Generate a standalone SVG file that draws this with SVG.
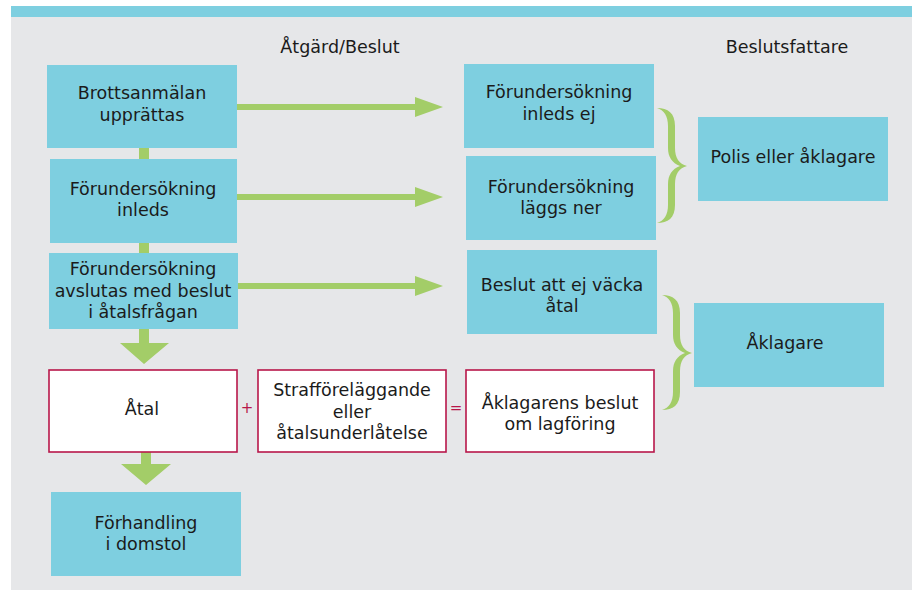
<svg xmlns="http://www.w3.org/2000/svg" width="912" height="590" viewBox="0 0 912 590">
<style>
.t{font-family:"DejaVu Sans","Liberation Sans",sans-serif;font-size:17.5px;fill:#1b1b1b;text-anchor:middle}
.c{fill:#7ecfe0}
.w{fill:#ffffff;stroke:#b8174a;stroke-width:1.6}
.g{fill:#a3cd68}
.op{font-family:"DejaVu Sans","Liberation Sans",sans-serif;font-size:15px;fill:#b8174a;text-anchor:middle}
</style>
<defs>
<path id="brace" class="g" d="M657,108 C668,108 675,113 675,126 L675,148 C675,158 679,164 687,166 C679,168 675,174 675,184 L675,205 C675,218 668,223 657,223 C664,221 668,215 668,205 L668,184 C668,175 672,169 680,166 C672,163 668,157 668,148 L668,126 C668,116 664,110 657,108 Z"/>
</defs>
<rect x="0" y="0" width="912" height="590" fill="#ffffff"/>
<rect x="11" y="17" width="901" height="573" fill="#e6e7e9"/>
<rect x="11" y="6" width="901" height="11" fill="#7ecfe0"/>
<text class="t" x="340" y="53">Åtgärd/Beslut</text>
<text class="t" x="787" y="53">Beslutsfattare</text>

<g id="connectors">
<rect class="g" x="139" y="147" width="10" height="13"/>
<rect class="g" x="139" y="242" width="10" height="12"/>
<path class="g" d="M139,328 H149 V343 H169 L144,364 L120,343 H139 Z"/>
<path class="g" d="M141,451 H151 V464 H171 L146,485 L121,464 H141 Z"/>
<path class="g" d="M237,104 H415 V97 L443,107 L415,117 V110 H237 Z"/>
<path class="g" d="M237,194 H415 V187 L443,197 L415,207 V200 H237 Z"/>
<path class="g" d="M238,283 H415 V276 L443,286 L415,296 V289 H238 Z"/>
<use href="#brace"/>
<use href="#brace" transform="translate(5,187)"/>
<text class="op" x="247" y="413">+</text>
<text class="op" x="456" y="413">=</text>
</g>

<g id="n1"><rect class="c" x="47" y="65" width="190" height="83"/>
<text class="t" x="142" y="99">Brottsanmälan</text><text class="t" x="142" y="121">upprättas</text></g>
<g id="n2"><rect class="c" x="50" y="159" width="187" height="84"/>
<text class="t" x="143" y="195">Förundersökning</text><text class="t" x="143" y="216">inleds</text></g>
<g id="n3"><rect class="c" x="49" y="253" width="189" height="76"/>
<text class="t" x="143" y="275">Förundersökning</text><text class="t" x="143" y="297">avslutas med beslut</text><text class="t" x="143" y="318">i åtalsfrågan</text></g>
<g id="n4"><rect class="w" x="49" y="370" width="188" height="82"/>
<text class="t" x="142" y="415">Åtal</text></g>
<g id="n5"><rect class="w" x="258" y="370" width="188" height="82"/>
<text class="t" x="352" y="396">Strafföreläggande</text><text class="t" x="352" y="418">eller</text><text class="t" x="352" y="439">åtalsunderlåtelse</text></g>
<g id="n6"><rect class="w" x="466" y="370" width="188" height="82"/>
<text class="t" x="560" y="409">Åklagarens beslut</text><text class="t" x="560" y="430">om lagföring</text></g>
<g id="n7"><rect class="c" x="51" y="492" width="190" height="84"/>
<text class="t" x="146" y="529">Förhandling</text><text class="t" x="146" y="550">i domstol</text></g>
<g id="n8"><rect class="c" x="464" y="64" width="190" height="84"/>
<text class="t" x="559" y="98">Förundersökning</text><text class="t" x="559" y="120">inleds ej</text></g>
<g id="n9"><rect class="c" x="466" y="156" width="190" height="84"/>
<text class="t" x="561" y="193">Förundersökning</text><text class="t" x="561" y="214">läggs ner</text></g>
<g id="n10"><rect class="c" x="467" y="250" width="190" height="84"/>
<text class="t" x="562" y="291">Beslut att ej väcka</text><text class="t" x="562" y="312">åtal</text></g>
<g id="n11"><rect class="c" x="698" y="117" width="190" height="84"/>
<text class="t" x="793" y="163">Polis eller åklagare</text></g>
<g id="n12"><rect class="c" x="694" y="303" width="190" height="84"/>
<text class="t" x="785" y="349">Åklagare</text></g>
</svg>
